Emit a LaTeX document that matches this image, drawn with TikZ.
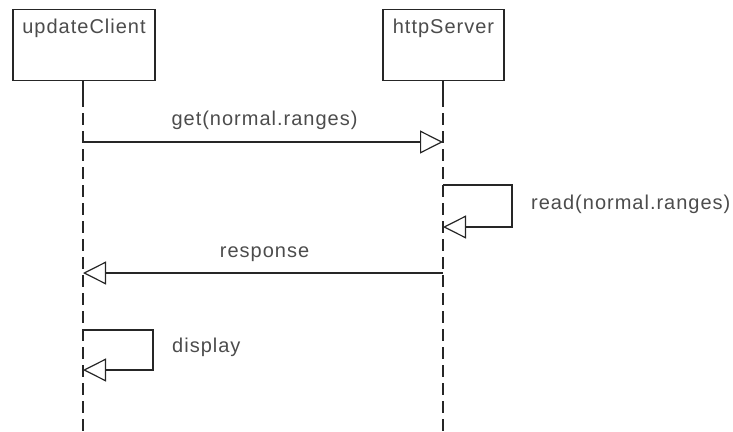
\documentclass[tikz,border=0pt]{standalone}
\usepackage{fontspec}
\setmainfont{Liberation Sans}[LetterSpace=5]
\usetikzlibrary{arrows.meta}
\tikzset{
  objbox/.style={draw=black!85, line width=1.4pt, fill=white, minimum width=#1, inner sep=0pt,
    text height=24pt, text depth=47pt, anchor=north, font=\fontsize{20}{20}\selectfont, text=black!70},
  lifeline/.style={draw=black!85, line width=1.3pt, dash pattern=on 12pt off 6pt},
  lifestart/.style={draw=black!85, line width=1.3pt},
  msg/.style={draw=black!85, line width=1.2pt, -{Triangle[open, length=23pt, width=23pt, line width=1.2pt]}},
  msglabel/.style={font=\fontsize{20}{20}\selectfont, text=black!70, inner sep=0pt}
}
\begin{document}
\begin{tikzpicture}[x=1pt,y=-1pt]
\useasboundingbox (0,0) rectangle (733,431);
% objects
\node[objbox=142pt] (client) at (84,9) {updateClient};
\node[objbox=121pt] (server) at (443.5,9) {httpServer};
% lifeline coordinates
\coordinate (c0) at (83,80);
\coordinate (c1) at (83,95);
\coordinate (cend) at (83,431);
\coordinate (s0) at (443,80);
\coordinate (s1) at (443,95);
\coordinate (send) at (443,431);
\draw[lifestart] (c0) -- (c1);
\draw[lifeline] (c1) -- (cend);
\draw[lifestart] (s0) -- (s1);
\draw[lifeline] (s1) -- (send);
% get
\coordinate (getA) at (83,142);
\coordinate (getB) at (443,142);
\draw[msg] (getA) -- (getB);
\node[msglabel, anchor=base] (getL) at (264.5,125) {get(normal.ranges)};
% read (self)
\coordinate (readA) at (443,185);
\coordinate (readR1) at (512,185);
\coordinate (readR2) at (512,227);
\coordinate (readB) at (443,227);
\draw[msg] (readA) -- (readR1) -- (readR2) -- (readB);
\node[msglabel, anchor=base west] (readL) at (531,209) {read(normal.ranges)};
% response
\coordinate (respA) at (443,273);
\coordinate (respB) at (83,273);
\draw[msg] (respA) -- (respB);
\node[msglabel, anchor=base] (respL) at (264.5,257) {response};
% display (self)
\coordinate (dispA) at (83,330);
\coordinate (dispR1) at (153,330);
\coordinate (dispR2) at (153,370);
\coordinate (dispB) at (83,370);
\draw[msg] (dispA) -- (dispR1) -- (dispR2) -- (dispB);
\node[msglabel, anchor=base west] (dispL) at (172,352) {display};
\end{tikzpicture}
\end{document}
